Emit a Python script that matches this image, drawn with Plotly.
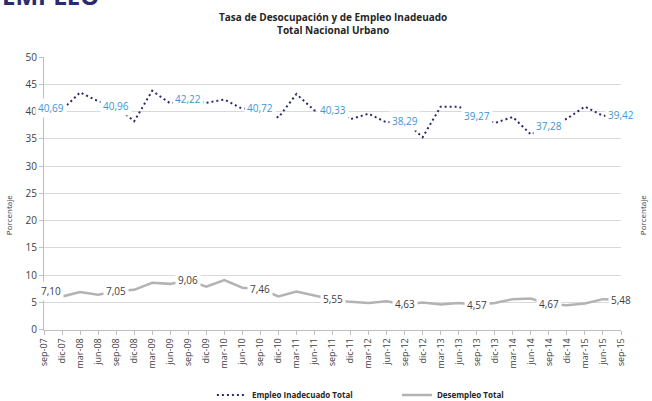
import plotly.graph_objects as go

# ---- data ----
categories = ["sep-07", "dic-07",
              "mar-08", "jun-08", "sep-08", "dic-08",
              "mar-09", "jun-09", "sep-09", "dic-09",
              "mar-10", "jun-10", "sep-10", "dic-10",
              "mar-11", "jun-11", "sep-11", "dic-11",
              "mar-12", "jun-12", "sep-12", "dic-12",
              "mar-13", "jun-13", "sep-13", "dic-13",
              "mar-14", "jun-14", "sep-14", "dic-14",
              "mar-15", "jun-15", "sep-15"]

empleo_inadecuado = [40.69, 40.3,
                     43.5, 41.9, 40.96, 38.2,
                     43.8, 41.5, 42.22, 41.6,
                     42.2, 40.5, 40.72, 38.9,
                     43.2, 40.2, 40.33, 38.6,
                     39.6, 38.0, 38.29, 35.3,
                     40.9, 40.9, 39.27, 37.9,
                     39.0, 35.8, 37.28, 38.7,
                     40.9, 39.2, 39.42]

desempleo = [7.10, 6.07,
             6.9, 6.4, 7.05, 7.3,
             8.6, 8.4, 9.06, 7.9,
             9.1, 7.7, 7.46, 6.1,
             7.0, 6.3, 5.55, 5.1,
             4.9, 5.2, 4.63, 5.0,
             4.6, 4.9, 4.57, 4.9,
             5.6, 5.7, 4.67, 4.5,
             4.8, 5.6, 5.48]

y_ticks = [0, 5, 10, 15, 20, 25, 30, 35, 40, 45, 50]

title_lines = ["Tasa de Desocupación y de Empleo Inadeuado", "Total Nacional Urbano"]

FONT = "Open Sans"
NAVY = "#2B2A6E"
GRAY = "#B3B3B3"
BLUE = "#3E95D1"

x_idx = list(range(len(categories)))

fig = go.Figure()
fig.add_trace(go.Scatter(
    x=x_idx, y=empleo_inadecuado, mode="lines", name="Empleo Inadecuado Total",
    line=dict(color=NAVY, width=2, dash="2px,3px"),
))
fig.add_trace(go.Scatter(
    x=x_idx, y=desempleo, mode="lines", name="Desempleo Total",
    line=dict(color=GRAY, width=2.5),
))

annotations = []
for i in range(0, len(categories), 4):
    xs = 7 if i == 0 else 0
    annotations.append(dict(
        x=i, y=empleo_inadecuado[i], xref="x", yref="y",
        text=f"{empleo_inadecuado[i]:.2f}".replace(".", ","),
        showarrow=False, bgcolor="white", borderpad=2, xshift=xs,
        font=dict(family=FONT, size=10, color=BLUE),
    ))
    annotations.append(dict(
        x=i, y=desempleo[i], xref="x", yref="y",
        text=f"{desempleo[i]:.2f}".replace(".", ","),
        showarrow=False, bgcolor="white", borderpad=2, xshift=xs,
        font=dict(family=FONT, size=10, color="#404040"),
    ))

annotations.append(dict(
    x=0.5, y=1, xref="paper", yref="paper", yshift=34, yanchor="middle",
    text="<b>" + "<br>".join(title_lines) + "</b>", showarrow=False,
    font=dict(family=FONT, size=10, color="#262626"),
))
annotations.append(dict(
    x=0, xref="paper", xshift=-36, xanchor="center", y=21, yref="y",
    text="Porcentaje", textangle=-90,
    showarrow=False, font=dict(family=FONT, size=8, color="#404040"),
))
annotations.append(dict(
    x=1, xref="paper", xshift=21, xanchor="center", y=21, yref="y",
    text="Porcentaje", textangle=-90,
    showarrow=False, font=dict(family=FONT, size=8, color="#404040"),
))
annotations.append(dict(
    x=0, xref="paper", xshift=-44, xanchor="left", y=1, yref="paper", yshift=43, yanchor="bottom",
    text="<b>EMPLEO</b>", showarrow=False,
    font=dict(family=FONT, size=24, color="#2B2A6E"),
))

fig.update_layout(
    width=652, height=401,
    margin=dict(l=44, r=31, t=57, b=69),
    paper_bgcolor="white", plot_bgcolor="white",
    font=dict(family=FONT, color="#404040"),
    showlegend=True,
    legend=dict(orientation="h", xref="container", yref="container",
                x=0.325, xanchor="left", y=0.015, yanchor="middle",
                font=dict(family=FONT, size=8, color="#262626", weight="bold"),
                entrywidth=140, entrywidthmode="pixels", itemwidth=30),
    annotations=annotations,
)
fig.update_xaxes(
    range=[0, len(categories) - 1], tickmode="array", tickvals=x_idx, ticktext=categories,
    tickangle=-90, tickfont=dict(family=FONT, size=9, color="#404040"),
    showgrid=False, showline=True, linecolor="#BFBFBF", linewidth=1,
    ticks="outside", ticklen=4, tickcolor="#BFBFBF", zeroline=False,
)
fig.update_yaxes(
    range=[0, 50], tickmode="array", tickvals=y_ticks,
    tickfont=dict(family=FONT, size=10, color="#404040"),
    showgrid=True, gridcolor="#D9D9D9", gridwidth=1,
    showline=True, linecolor="#BFBFBF", linewidth=1,
    ticks="outside", ticklen=4, tickcolor="#BFBFBF", zeroline=False,
)

fig.write_html("out.html", config={"displayModeBar": False},
               post_script="document.body.style.margin='0';")
